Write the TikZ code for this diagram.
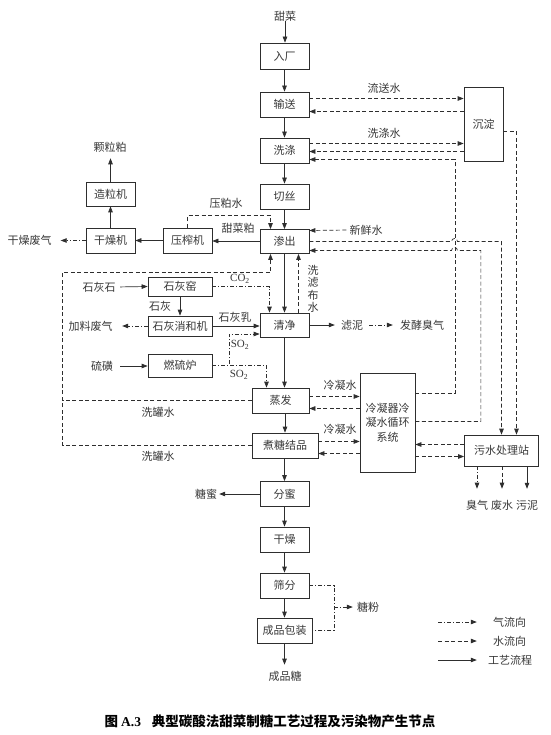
\documentclass[tikz,border=0pt]{standalone}
\usepackage{fontspec}
\setmainfont{Liberation Serif}
\newfontfamily\cjk{Noto Sans CJK SC}
\usetikzlibrary{arrows.meta,calc}
\begin{document}
\begin{tikzpicture}[x=1pt,y=-1pt,
  every node/.style={font=\cjk\fontsize{11}{13}\selectfont, text=black!78, inner sep=0pt},
  box/.style={draw=black!82, line width=0.7pt, minimum width=49pt, minimum height=25pt},
  proc/.style={draw=black!82, line width=0.7pt, -{Triangle[length=6pt,width=4.5pt]}},
  water/.style={proc, dash pattern=on 4pt off 2.5pt},
  gas/.style={proc, dash pattern=on 4pt off 2pt on 1pt off 2pt},
  rm/.style={font=\rmfamily\fontsize{11}{13}\selectfont}]
\fill[white] (0,0) rectangle (550,735);
\useasboundingbox (0,0) rectangle (550,735);

% ---------- main column ----------
\node (tc) at (285,16) {甜菜};
\node[box,minimum height=26pt] (rc) at (284.5,56) {入厂};
\node[box] (ss) at (284.5,104.5) {输送};
\node[box] (xd) at (284.5,150.5) {洗涤};
\node[box] (qs) at (284.5,196.5) {切丝};
\node[box,minimum height=24pt] (sc) at (284.5,241.5) {渗出};
\node[box,minimum height=24pt] (qj) at (284.5,325) {清净};
\node[box,minimum width=57pt] (zf) at (280.5,400.5) {蒸发};
\node[box,minimum width=66pt] (zt) at (285,445.5) {煮糖结品};
\node[box] (fm) at (284.5,494) {分蜜};
\node[box] (gz) at (284.5,539.5) {干燥};
\node[box] (sf) at (284.5,585.5) {筛分};
\node[box,minimum width=55pt] (cp) at (284.5,630.5) {成品包装};
\node (cpt) at (285,676) {成品糖};

% ---------- right side ----------
\node[box,minimum width=39pt,minimum height=74pt] (cd) at (483.5,124) {沉淀};
\node[box,minimum width=55pt,minimum height=99pt,align=center,
      font=\cjk\fontsize{11}{14.5}\selectfont] (lnq) at (387.5,422.5) {冷凝器冷\\凝水循环\\系统};
\node[box,minimum width=74pt,minimum height=31pt] (ws) at (501.5,450.5) {污水处理站};

% ---------- left side ----------
\node[box,minimum height=24pt] (zlj) at (110.5,194) {造粒机};
\node[box] (gzj) at (110.5,240.5) {干燥机};
\node[box] (yzj) at (187.5,240.5) {压榨机};
\node[box,minimum width=64pt,minimum height=19pt] (shy) at (180,286.5) {石灰窑};
\node[box,minimum width=64pt,minimum height=20pt] (shx) at (180,326) {石灰消和机};
\node[box,minimum width=64pt,minimum height=23pt] (rlz) at (180,365.5) {燃硫炉};

% ---------- labels ----------
\node (klp) at (110,147) {颗粒粕};
\node (gzfq) at (29.5,240) {干燥废气};
\node (ypw) at (226,203) {压粕水};
\node (tcp) at (238,228) {甜菜粕};
\node (xxs) at (366,230) {新鲜水};
\node (lsw) at (384,88) {流送水};
\node (xdw) at (384,133) {洗涤水};
\node[align=center,font=\cjk\fontsize{11}{12.5}\selectfont] (xlb) at (313,289) {洗\\滤\\布\\水};
\node (shs) at (99,287) {石灰石};
\node (sh) at (160,306) {石灰};
\node (shr) at (235,317) {石灰乳};
\node (jlfq) at (90.5,326) {加料废气};
\node (lh) at (102,366) {硫磺};
\node[rm] (co2) at (240,279) {CO\textsubscript{2}};
\node[rm] (so2a) at (240,345) {SO\textsubscript{2}};
\node[rm] (so2b) at (239,375) {SO\textsubscript{2}};
\node (ln) at (352,325) {滤泥};
\node (fjcq) at (422,325) {发酵臭气};
\node (lns1) at (340,385) {冷凝水};
\node (lns2) at (340,429) {冷凝水};
\node (xgs1) at (158,412) {洗罐水};
\node (xgs2) at (158,456) {洗罐水};
\node (tm) at (206,494) {糖蜜};
\node (tf) at (368,607) {糖粉};
\node (cq) at (477,505) {臭气};
\node (fs) at (502,505) {废水};
\node (wn) at (527,505) {污泥};

% ---------- main flow ----------
\draw[proc] (tc.south) -- (tc.south |- rc.north);
\draw[proc] (rc) -- (ss);
\draw[proc] (ss) -- (xd);
\draw[proc] (xd) -- (qs);
\draw[proc] (qs) -- (sc);
\draw[proc] (sc) -- (qj);
\draw[proc] (qj.south) -- (qj.south |- zf.north);
\draw[proc] (zt.north |- zf.south) -- (zt.north);
\draw[proc] (fm.north |- zt.south) -- (fm.north);
\draw[proc] (fm) -- (gz);
\draw[proc] (gz) -- (sf);
\draw[proc] (sf) -- (cp);
\draw[proc,shorten >=6pt] (cp.south) -- (cp.south |- cpt.north);

% ---------- pulp ----------
\draw[proc] ([yshift=0.5pt]sc.west) -- ([yshift=0.5pt]sc.west -| yzj.east);
\draw[proc] (yzj.west) -- (gzj.east);
\draw[proc] (gzj.north) -- (zlj.south);
\draw[proc,shorten >=6pt] (zlj.north) -- (zlj.north |- klp.south);
\draw[gas,shorten >=9pt] (gzj.west) -- (gzj.west -| gzfq.east);
\draw[water] (yzj.north) -- ++(0,-12) -| ([xshift=-14pt]sc.north);
\draw[water,shorten <=3pt] (xxs.west) -- ([yshift=11pt]sc.east);
\draw[water] ([xshift=14pt]qj.north) -- ([xshift=14pt]sc.south);

% ---------- settling ----------
\draw[water] ([yshift=6pt]ss.east) -- ([yshift=6pt]ss.east -| cd.west);
\draw[water] ([yshift=-7pt]ss.east -| cd.west) -- ([yshift=-7pt]ss.east);
\draw[water] ([yshift=7pt]xd.east) -- ([yshift=7pt]xd.east -| cd.west);
\draw[water] ([yshift=-1pt]xd.east -| cd.west) -- ([yshift=-1pt]xd.east);
\draw[water] ([yshift=29pt]lnq.east) -- ++(39.5,0) |- ([yshift=-9pt]xd.east);
\draw[water] ([yshift=-7.5pt]cd.east) -| ([xshift=15pt]ws.north);
\draw[water] (sc.east) -- (451.5,241.5) arc[start angle=180,end angle=360,radius=3] -| (ws.north);
\draw[water] ([yshift=1pt]lnq.east) -- ++(65.5,0) |- (457.5,250.5)
   arc[start angle=0,end angle=-180,radius=3] -- ([yshift=-9pt]sc.east);

% ---------- condenser ----------
\draw[water] ([yshift=6pt]ws.west) -- ([yshift=6pt]ws.west -| lnq.east);
\draw[water] ([yshift=-6pt]ws.west -| lnq.east) -- ([yshift=-6pt]ws.west);
\draw[water] ([yshift=4pt]zf.east) -- ([yshift=4pt]zf.east -| lnq.west);
\draw[water] ([yshift=-8pt]zf.east -| lnq.west) -- ([yshift=-8pt]zf.east);
\draw[water] ([yshift=4pt]zt.east) -- ([yshift=4pt]zt.east -| lnq.west);
\draw[water] ([yshift=-8pt]zt.east -| lnq.west) -- ([yshift=-8pt]zt.east);

% ---------- tank washing loop ----------
\draw[water] (zt.west) -| (62.5,272.5) -| ([xshift=-14pt]sc.south);
\draw[water,-] (zf.west) -- (62.5,400.5);

% ---------- lime & sulphur ----------
\draw[proc,shorten <=4.5pt] (shs.east) -- (shy.west);
\draw[proc] (shy.south) -- (shx.north);
\draw[proc] (shx.east) -- (shx.east -| qj.west);
\draw[gas,shorten >=9.5pt] (shx.west) -- (shx.west -| jlfq.east);
\draw[proc,shorten <=7pt] (lh.east) -- (lh.east -| rlz.west);
\draw[gas] (shy.east) -| ([xshift=-15pt]qj.north);
\draw[gas] (rlz.east) -| ([xshift=-14pt]zf.north);
\draw[gas] (rlz.east) -- ++(16.5,0) |- ([yshift=-9pt]qj.west);

% ---------- filter mud ----------
\draw[proc,shorten >=6pt] (qj.east) -- (qj.east -| ln.west);
\draw[gas,shorten <=6pt,shorten >=7pt] (ln.east) -- (ln.east -| fjcq.west);

% ---------- molasses, sugar powder ----------
\draw[proc,shorten >=2pt] (fm.west) -- (fm.west -| tm.east);
\draw[gas,-] (sf.east) -| ([xshift=21.5pt]cp.east) -- (cp.east);
\draw[gas,shorten >=4pt] ([xshift=21.5pt]cp.east |- tf.west) -- (tf.west);

% ---------- wastewater station outputs ----------
\draw[gas,shorten >=11pt] (ws.south -| cq.north) -- (cq.north);
\draw[water,shorten >=11pt] (ws.south -| fs.north) -- (fs.north);
\draw[proc,shorten >=11pt] (ws.south -| wn.north) -- (wn.north);

% ---------- legend ----------
\node (lg1) at (509.5,622) {气流向};
\node (lg2) at (509.5,641) {水流向};
\node (lg3) at (510,660) {工艺流程};
\coordinate (g1) at (438,622);
\coordinate (g2) at (438,641);
\coordinate (g3) at (438,660);
\draw[gas,shorten >=16pt] (g1) -- (lg1.west);
\draw[water,shorten >=16pt] (g2) -- (lg2.west);
\draw[proc,shorten >=11pt] (g3) -- (lg3.west);

% ---------- caption ----------
\node[font=\cjk\bfseries\fontsize{13.5}{16}\selectfont, text=black] (cap) at (270,721)
  {图 {\rmfamily A.3}\hspace{0.8em}典型碳酸法甜菜制糖工艺过程及污染物产生节点};
\end{tikzpicture}
\end{document}
